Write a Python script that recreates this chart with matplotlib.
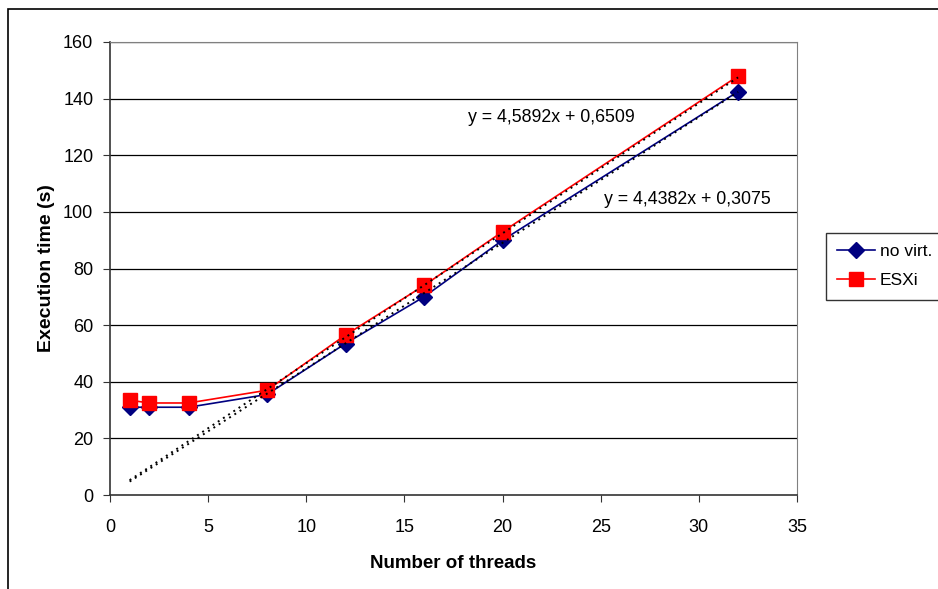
import matplotlib.pyplot as plt
from matplotlib.patches import Rectangle

threads = [1, 2, 4, 8, 12, 16, 20, 32]
no_virt = [31, 31, 31, 35.5, 53.5, 70, 90, 142.5]
esxi = [33.5, 32.5, 32.5, 37, 56.5, 74, 93, 148]

# коэффициенты линий тренда (из подписей на графике)
trend_esxi = (4.5892, 0.6509)
trend_novirt = (4.4382, 0.3075)
trend_x = [1, 32]

plt.rcParams['font.family'] = ['Liberation Sans', 'DejaVu Sans']

fig = plt.figure(figsize=(9.38, 5.89), dpi=100)
ax = fig.add_axes([110 / 938, 1 - 495 / 589, 687 / 938, 453 / 589])

fig.patches.append(Rectangle((8 / 938, -0.1), 1.2, 1 - 9 / 589 + 0.1,
                             transform=fig.transFigure, fill=False,
                             edgecolor='black', linewidth=1.2))

for y in range(20, 161, 20):
    ax.axhline(y, color='black', linewidth=0.9, zorder=1)

ax.plot(threads, no_virt, color='#000080', marker='D', markersize=8,
        linewidth=1.2, label='no virt.', zorder=3)
ax.plot(threads, esxi, color='#ff0000', marker='s', markersize=10,
        linewidth=1.2, label='ESXi', zorder=4)

for k, b in (trend_esxi, trend_novirt):
    ax.plot(trend_x, [k * x + b for x in trend_x], color='black',
            linestyle=(0, (1.0, 2.2)), linewidth=1.4, zorder=5)

ax.text(22.5, 133.5, 'y = 4,5892x + 0,6509', fontsize=12.8,
        ha='center', va='center')
ax.text(29.4, 104.2, 'y = 4,4382x + 0,3075', fontsize=12.8,
        ha='center', va='center')

ax.set_xlim(0, 35)
ax.set_ylim(0, 160)
ax.set_xticks(range(0, 36, 5))
ax.set_yticks(range(0, 161, 20))
ax.tick_params(direction='out', length=5, labelsize=13, color='#333333')
ax.tick_params(axis='x', pad=12)
ax.tick_params(axis='y', pad=7)

for side in ('top', 'right'):
    ax.spines[side].set_color('#808080')
for side in ('left', 'bottom'):
    ax.spines[side].set_color('#333333')
    ax.spines[side].set_linewidth(1.2)

ax.set_xlabel('Number of threads', fontsize=13.5, fontweight='bold', labelpad=14)
ax.set_ylabel('Execution time (s)', fontsize=14, fontweight='bold', labelpad=6)

leg = ax.legend(loc='upper left', bbox_to_anchor=(826 / 938, 1 - 233 / 589),
                bbox_transform=fig.transFigure, fontsize=12.5, frameon=True,
                fancybox=False, edgecolor='black', borderpad=0.65,
                handlelength=2.2, handletextpad=0.25, labelspacing=0.8,
                borderaxespad=0)
leg.get_frame().set_linewidth(1.0)

fig.savefig('out.png', dpi=100)
